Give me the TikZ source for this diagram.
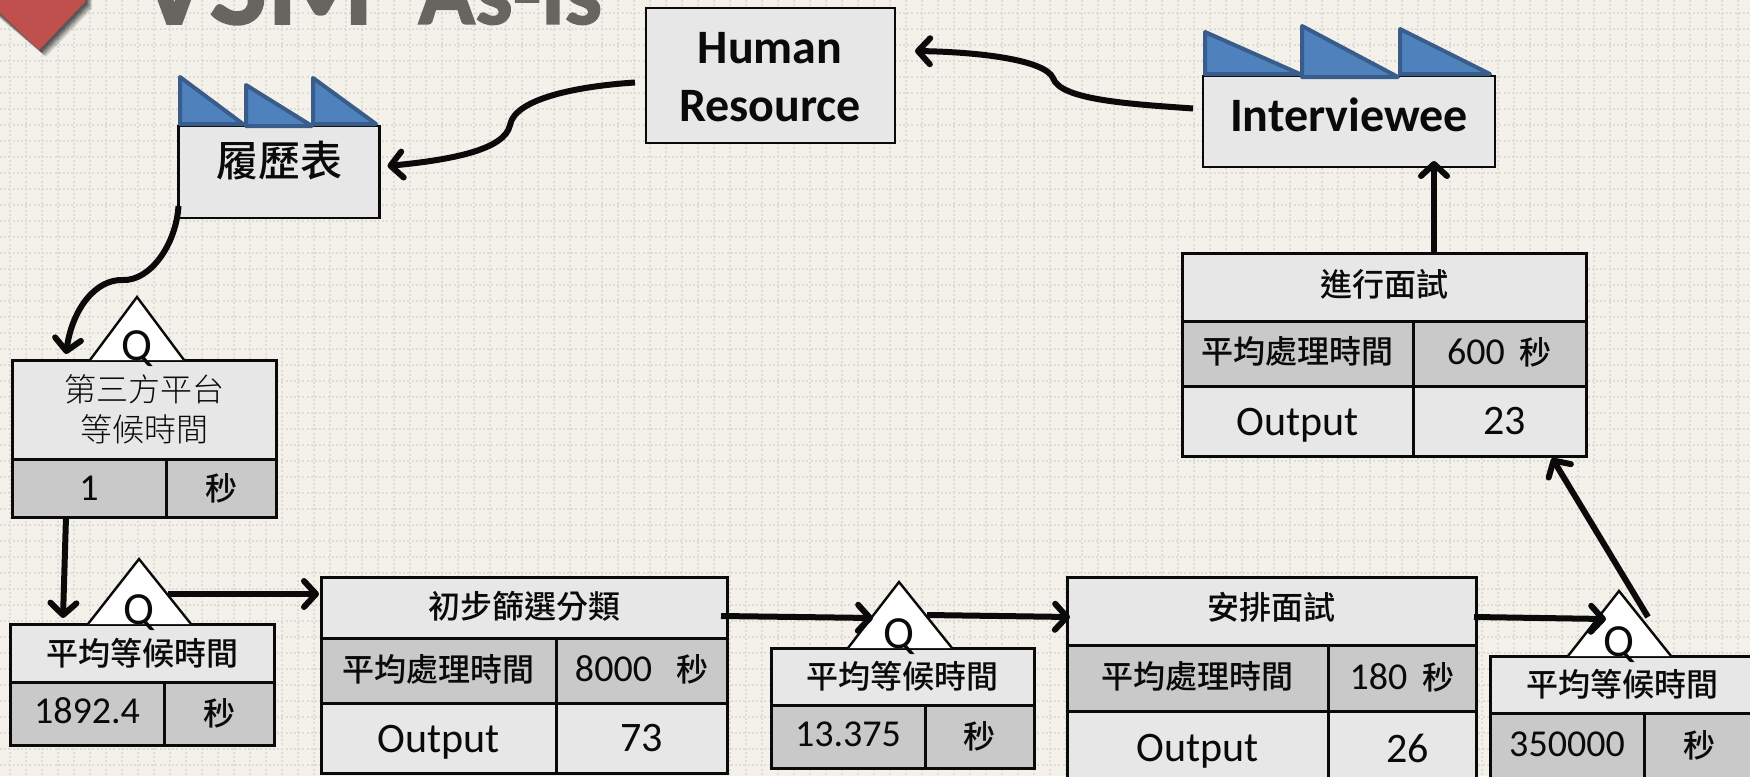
\documentclass[tikz,border=0pt]{standalone}
\usepackage{fontspec}
\setmainfont{Carlito}
\newfontfamily\cjk{Noto Sans CJK TC Medium}
\newfontfamily\cjkl{Noto Sans CJK TC Light}
\newfontfamily\titlef[FakeBold=1.5]{Carlito Bold}
\usetikzlibrary{arrows.meta}
\definecolor{bgc}{HTML}{F4F0EA}
\definecolor{dotc}{HTML}{DEDCD8}
\definecolor{cellL}{HTML}{E7E7E7}
\definecolor{cellD}{HTML}{C9C9C9}
\definecolor{inkc}{HTML}{0A0A0A}
\definecolor{blueF}{HTML}{4F81BD}
\definecolor{blueL}{HTML}{385D8A}
\definecolor{titlec}{HTML}{66655F}
\definecolor{redc}{HTML}{C0504D}
\tikzset{
  dotgrid/.style={draw=dotc,line width=1.6pt,dash pattern=on 2pt off 2.2pt},
  cellbase/.style={draw=inkc,line width=3pt,inner sep=0pt,outer sep=0pt,text=inkc,align=center},
  light/.style={cellbase,fill=cellL},
  dark/.style={cellbase,fill=cellD},
  plainbox/.style={draw=inkc,line width=2.8pt,fill=cellL,inner sep=0pt,outer sep=0pt},
  saw/.style={draw=blueL,fill=blueF,line width=4pt,line join=round},
  qtri/.style={draw=inkc,fill=white,line width=2.4pt,line join=miter},
  qmark/.style={inner sep=0pt,text=inkc,font=\fontsize{46}{46}\selectfont},
  flow/.style={draw=inkc,line width=6pt,-{Straight Barb[length=12pt,width=26pt,line width=6pt,round]}},
  boldtxt/.style={inner sep=0pt,text=inkc,align=center,font=\fontsize{48}{58}\selectfont\bfseries},
  titlea/.style={inner sep=0pt,anchor=base west,text=titlec,font=\fontsize{122}{122}\selectfont\titlef},
  titleb/.style={inner sep=0pt,anchor=base west,text=titlec,font=\fontsize{94}{94}\selectfont\titlef},
  zh/.style={font=\fontsize{32}{38}\selectfont\cjk},
  zhs/.style={font=\fontsize{32}{38.5}\selectfont\cjkl},
  la/.style={font=\fontsize{42}{48}\selectfont,text depth=0pt},
  nu/.style={font=\fontsize{38}{46}\selectfont},
  nub/.style={font=\fontsize{42}{46}\selectfont}
}
\newcommand{\cellbox}[7]{%
  \pgfmathsetmacro{\cw}{#4-#2}\pgfmathsetmacro{\ch}{#5-#3}%
  \node[#6,minimum width=\cw pt,minimum height=\ch pt] (#1) at ({(#2+#4)/2},{(#3+#5)/2}) {#7};}
\newcommand{\up}[2]{\raisebox{#1pt}{#2}}
\newcommand{\numsec}[2]{{\fontsize{38}{46}\selectfont #1}\hspace{#2pt}{\fontsize{32}{38}\selectfont\cjk 秒}}
\begin{document}
\begin{tikzpicture}[x=1pt,y=-1pt]
\useasboundingbox (0,0) rectangle (1750,776);
\clip (0,0) rectangle (1750,776);
\fill[bgc] (0,0) rectangle (1750,776);
\foreach \yy in {13,29,...,776} {\draw[dotgrid] (0,\yy) -- (1750,\yy);}
\foreach \xx in {10,26,...,1750} {\draw[dotgrid] (\xx,0) -- (\xx,776);}
% red marker with soft shadow
\foreach \d/\o in {7/.10,6/.12,5/.14,4/.16,3/.18,2/.2} {
  \fill[black,opacity=\o] (39+\d,50+\d) -- (85+\d,2+\d) -- (85+\d,-20) -- (-20,-20) -- (-15,-1+\d) -- cycle;}
\fill[redc] (39,50) -- (85,2) -- (85,-20) -- (-20,-20) -- (-15,-1) -- cycle;
% title
\node[titlea] (tvsm) at (138,24) {VSM};
\node[titleb] (tasis) at (418,24) {As-is};

% factory 1
\cellbox{fac1}{178.5}{126}{379.5}{218}{plainbox}{}
\draw[saw] (180,77) -- (243,124) -- (180,124) -- cycle;
\draw[saw] (246,85) -- (312,126) -- (246,126) -- cycle;
\draw[saw] (313,78) -- (376,124) -- (313,124) -- cycle;
\node[boldtxt,font=\fontsize{42}{48}\selectfont\cjk] (fac1t) at (279,161) {履歷表};

% human resource
\cellbox{hr}{646}{8}{895}{143}{plainbox}{}
\node[boldtxt] (hrt) at (770,77) {Human\\Resource};

% factory 2
\cellbox{fac2}{1203}{76}{1495}{167}{plainbox}{}
\draw[saw] (1205,32) -- (1300,74) -- (1205,74) -- cycle;
\draw[saw] (1302,26) -- (1398,77) -- (1302,77) -- cycle;
\draw[saw] (1400,29) -- (1490,74) -- (1400,74) -- cycle;
\node[boldtxt] (fac2t) at (1349,115) {Interviewee};

% box 1
\cellbox{a1}{12}{360}{276}{459}{light,zhs}{\up{4}{第三方平台}\\\up{2}{等候時間}}
\cellbox{a2}{12}{459}{166}{517}{dark,nu}{1}
\cellbox{a3}{166}{459}{276}{517}{dark,zh}{秒}
\draw[qtri] (90,360) -- coordinate[pos=1] (ta) (137,297) -- (184,360);
\node[qmark] (qa) at (137,349) {Q};

% box 2
\cellbox{b1}{10}{624}{274}{682}{light,zh}{平均等候時間}
\cellbox{b2}{10}{682}{164}{745}{dark,nu}{\up{5}{1892.4}}
\cellbox{b3}{164}{682}{274}{745}{dark,zh}{\up{2}{秒}}
\draw[qtri] (88,624) -- coordinate[pos=1] (tb) (139,559) -- (191,624);
\node[qmark] (qb) at (139,613) {Q};

% box 3
\cellbox{c1}{321}{577}{727}{638}{light,zh}{\up{5.5}{初步篩選分類}}
\cellbox{c2}{321}{638}{556}{703}{dark,zh}{\up{5.5}{平均處理時間}}
\cellbox{c3}{556}{638}{727}{703}{dark}{\up{5}{\numsec{8000}{24}}}
\cellbox{c4}{321}{703}{556}{773}{light,la}{\up{-2}{Output}}
\cellbox{c5}{556}{703}{727}{773}{light,nub}{\up{-5}{73}}

% box 4
\cellbox{d1}{771}{648}{1034}{705}{light,zh}{\up{2}{平均等候時間}}
\cellbox{d2}{771}{705}{925}{768}{dark,nu}{\up{4}{13.375}}
\cellbox{d3}{925}{705}{1034}{768}{dark,zh}{\up{3}{秒}}
\draw[qtri] (848,648) -- coordinate[pos=1] (td) (899,582) -- (952,648);
\node[qmark] (qd) at (899,637) {Q};

% box 5
\cellbox{e1}{1067}{577}{1476}{645}{light,zh}{\up{9.5}{安排面試}}
\cellbox{e2}{1067}{645}{1328}{711}{dark,zh}{\up{6.3}{平均處理時間}}
\cellbox{e3}{1328}{645}{1476}{711}{dark}{\up{5}{\numsec{180}{15}}}
\cellbox{e4}{1067}{711}{1328}{785}{light,la}{Output}
\cellbox{e5}{1328}{711}{1476}{785}{light,nub}{\hspace{11pt}26}

% box 6
\cellbox{f1}{1490}{656}{1754}{713}{light,zh}{平均等候時間}
\cellbox{f2}{1490}{713}{1644}{778}{dark,nu}{\up{2}{350000}}
\cellbox{f3}{1644}{713}{1754}{778}{dark,zh}{\up{2}{秒}}
\draw[qtri] (1568,656) -- coordinate[pos=1] (tf) (1619,591) -- (1671,656);
\node[qmark] (qf) at (1619,645) {Q};

% box 7
\cellbox{g1}{1182}{253}{1586}{321}{light,zh}{\up{8.5}{進行面試}}
\cellbox{g2}{1182}{321}{1413}{386}{dark,zh}{\up{6.3}{平均處理時間}}
\cellbox{g3}{1413}{321}{1586}{386}{dark}{\up{4.5}{\numsec{600}{15}}}
\cellbox{g4}{1182}{386}{1413}{456}{light,la}{\up{-2}{Output}}
\cellbox{g5}{1413}{386}{1586}{456}{light,nub}{\hspace{10pt}\up{-4}{23}}

% connectors
\draw[flow] ([xshift=-11pt,yshift=-7pt]hr.west) .. controls (580,86) and (515,98) .. (510,125)
  .. controls (505,150) and (450,160) .. ([xshift=8pt,yshift=6pt]fac1.east);
\draw[flow] ([xshift=-10pt,yshift=13pt]fac2.west) .. controls (1130,104) and (1060,100) .. (1053,78)
  .. controls (1045,60) and (980,52) .. ([xshift=20pt,yshift=24.5pt]hr.east);
\draw[flow] ([yshift=-34pt]fac1.west) .. controls (176,245) and (150,281) .. (123,280)
  .. controls (95,279) and (72,310) .. ([xshift=-78pt,yshift=6pt]a1.north);
\draw[flow] ([xshift=-23pt]a2.south) -- ([xshift=-79pt,yshift=6pt]b1.north);
\draw[flow] ([xshift=29pt,yshift=-35pt]tb) -- ([xshift=-2pt,yshift=13.5pt]c1.west);
\draw[flow] ([xshift=-6pt,yshift=-8.5pt]c1.east) -- ([xshift=-26pt,yshift=-36pt]td);
\draw[flow] ([xshift=28pt,yshift=-33pt]td) -- ([xshift=3pt,yshift=-6pt]e1.west);
\draw[flow] ([xshift=-2pt,yshift=-6pt]e1.east) -- ([xshift=-13pt,yshift=-28pt]tf);
\draw[flow] ([xshift=29pt,yshift=-26pt]tf) -- ([xshift=-34pt,yshift=-2pt]g5.south east);
\draw[flow] ([xshift=50pt]g1.north) -- ([xshift=85pt,yshift=6pt]fac2.south);
\end{tikzpicture}
\end{document}
